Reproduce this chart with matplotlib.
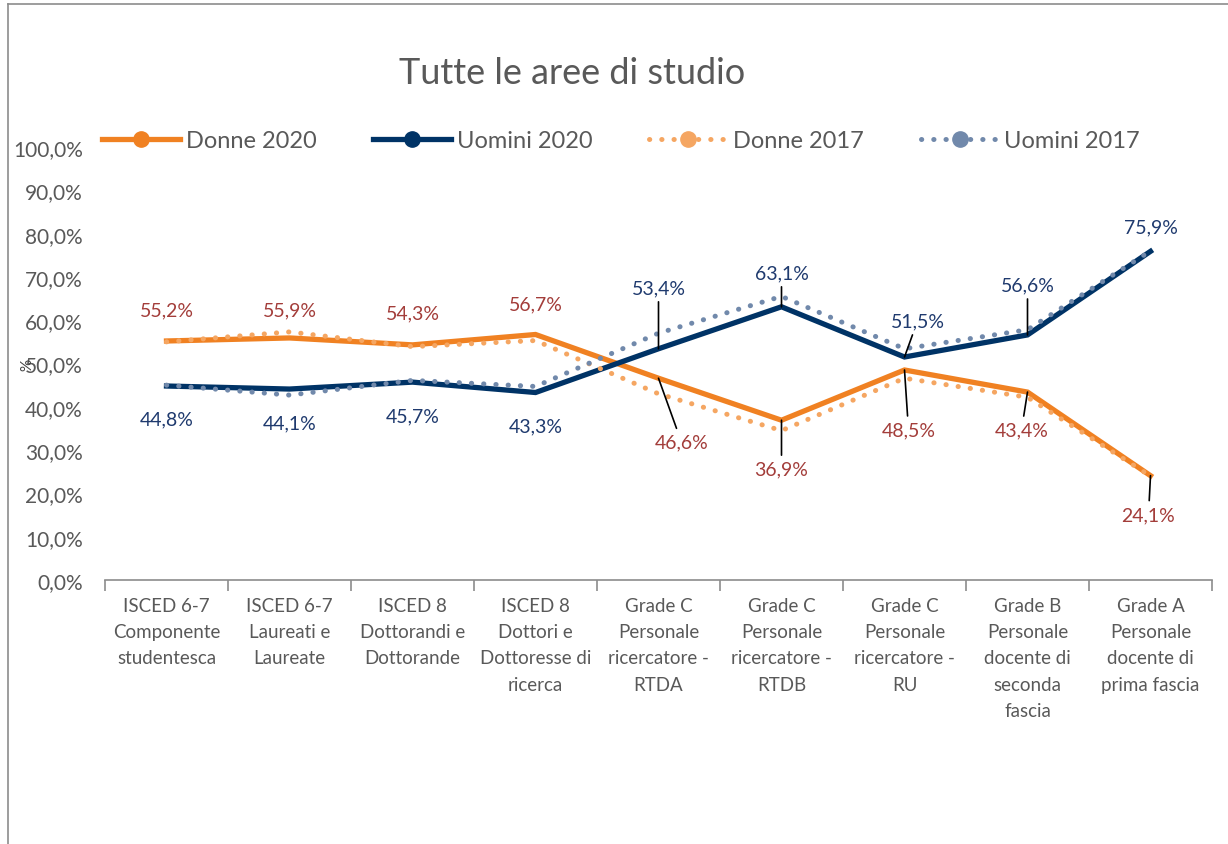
import matplotlib
matplotlib.use('Agg')
from matplotlib import pyplot as plt
from matplotlib.lines import Line2D

plt.rcParams['font.family'] = ['Lato', 'DejaVu Sans']

# dati
categorie = ['ISCED 6-7\nComponente\nstudentesca', 'ISCED 6-7\nLaureati e\nLaureate',
             'ISCED 8\nDottorandi e\nDottorande', 'ISCED 8\nDottori e\nDottoresse di\nricerca',
             'Grade C\nPersonale\nricercatore -\nRTDA', 'Grade C\nPersonale\nricercatore -\nRTDB',
             'Grade C\nPersonale\nricercatore -\nRU', 'Grade B\nPersonale\ndocente di\nseconda\nfascia',
             'Grade A\nPersonale\ndocente di\nprima fascia']
donne_2020 = [55.2, 55.9, 54.3, 56.7, 46.6, 36.9, 48.5, 43.4, 24.1]
uomini_2020 = [44.8, 44.1, 45.7, 43.3, 53.4, 63.1, 51.5, 56.6, 75.9]
donne_2017 = [55.0, 57.3, 53.9, 55.3, 43.0, 34.5, 46.6, 42.2, 24.0]
uomini_2017 = [45.0, 42.7, 46.1, 44.7, 57.0, 65.5, 53.4, 57.8, 76.0]

# posizione etichette (offset in pixel) e linee guida
off_donne = [(0, 31), (0, 28), (0, 32), (0, 31), (23, -64), (0, -49), (4, -60), (-6, -38), (-2, -39)]
off_uomini = [(0, -33), (0, -34), (0, -34), (0, -33), (0, 61), (0, 34), (13, 36), (0, 50), (0, 24)]
guida_donne = [False, False, False, False, True, True, True, True, True]
guida_uomini = [False, False, False, False, True, True, True, True, False]

C_ARANCIO = '#F08122'
C_BLU = '#003366'
C_ARANCIO_CH = '#F5A662'
C_BLU_CH = '#7189AB'
C_ETI_D = '#A33D3A'
C_ETI_U = '#1F3A6E'
GRIGIO = '#595959'

fig = plt.figure(figsize=(12.28, 8.45), dpi=100)
ax = fig.add_axes([105 / 1228, 1 - 581 / 845, (1212 - 105) / 1228, (581 - 148) / 845])

x = list(range(len(categorie)))
dot = (0, (0.05, 2.4))
ax.plot(x, donne_2020, color=C_ARANCIO, lw=3.8, solid_joinstyle='miter')
ax.plot(x, uomini_2020, color=C_BLU, lw=3.8, solid_joinstyle='miter')
ax.plot(x, donne_2017, color=C_ARANCIO_CH, lw=3.6, linestyle=dot, dash_capstyle='round')
ax.plot(x, uomini_2017, color=C_BLU_CH, lw=3.6, linestyle=dot, dash_capstyle='round')

def etichette(valori, offsets, guide, colore):
    for i, v in enumerate(valori):
        arrow = dict(arrowstyle='-', color='black', lw=1.2, shrinkA=2, shrinkB=0) if guide[i] else None
        ax.annotate(f'{v:.1f}%'.replace('.', ','), xy=(i, v), xytext=offsets[i],
                    textcoords='offset pixels', ha='center', va='center',
                    fontsize=14, color=colore, arrowprops=arrow)

etichette(donne_2020, off_donne, guida_donne, C_ETI_D)
etichette(uomini_2020, off_uomini, guida_uomini, C_ETI_U)

ax.set_xlim(-0.5, len(categorie) - 0.5)
ax.set_ylim(0, 100)
ax.set_yticks(range(0, 101, 10))
ax.set_yticklabels([f'{t},0%' for t in range(0, 101, 10)])
ax.tick_params(axis='y', length=0, pad=16, labelsize=15, labelcolor=GRIGIO)
ax.set_xticks(x)
ax.set_xticklabels(categorie, fontsize=13.5, color=GRIGIO, linespacing=1.67, va='top')
ax.tick_params(axis='x', which='major', length=0, pad=12)
ax.set_xticks([i - 0.5 for i in range(len(categorie) + 1)], minor=True)
ax.tick_params(axis='x', which='minor', length=8, width=1.2, color='#8C8C8C')
for s in ['top', 'right', 'left']:
    ax.spines[s].set_visible(False)
ax.spines['bottom'].set_color('#8C8C8C')
ax.spines['bottom'].set_linewidth(1.2)

fig.text(27 / 1228, 1 - 365 / 845, '%', rotation=90, ha='center', va='center', fontsize=11, color='#404040')
fig.text(572 / 1228, 1 - 73 / 845, 'Tutte le aree di studio', ha='center', va='center', fontsize=26, color=GRIGIO)

handles = [
    Line2D([], [], color=C_ARANCIO, lw=3.8, marker='o', markersize=11),
    Line2D([], [], color=C_BLU, lw=3.8, marker='o', markersize=11),
    Line2D([], [], color=C_ARANCIO_CH, lw=3.6, linestyle=dot, dash_capstyle='round', marker='o', markersize=11),
    Line2D([], [], color=C_BLU_CH, lw=3.6, linestyle=dot, dash_capstyle='round', marker='o', markersize=11),
]
fig.legend(handles, ['Donne 2020', 'Uomini 2020', 'Donne 2017', 'Uomini 2017'],
           loc='center', bbox_to_anchor=(621 / 1228, 1 - 142 / 845), ncol=4, frameon=False,
           fontsize=17, labelcolor=GRIGIO, handlelength=3.3, handletextpad=0.25, columnspacing=2.4)

# bordo del grafico
fig.add_artist(Line2D([8 / 1228, 8 / 1228], [0, 1 - 5 / 845], color='#8C8C8C', lw=1.2))
fig.add_artist(Line2D([8 / 1228, 1], [1 - 5 / 845, 1 - 5 / 845], color='#8C8C8C', lw=1.2))

fig.savefig('out.png', dpi=100)
